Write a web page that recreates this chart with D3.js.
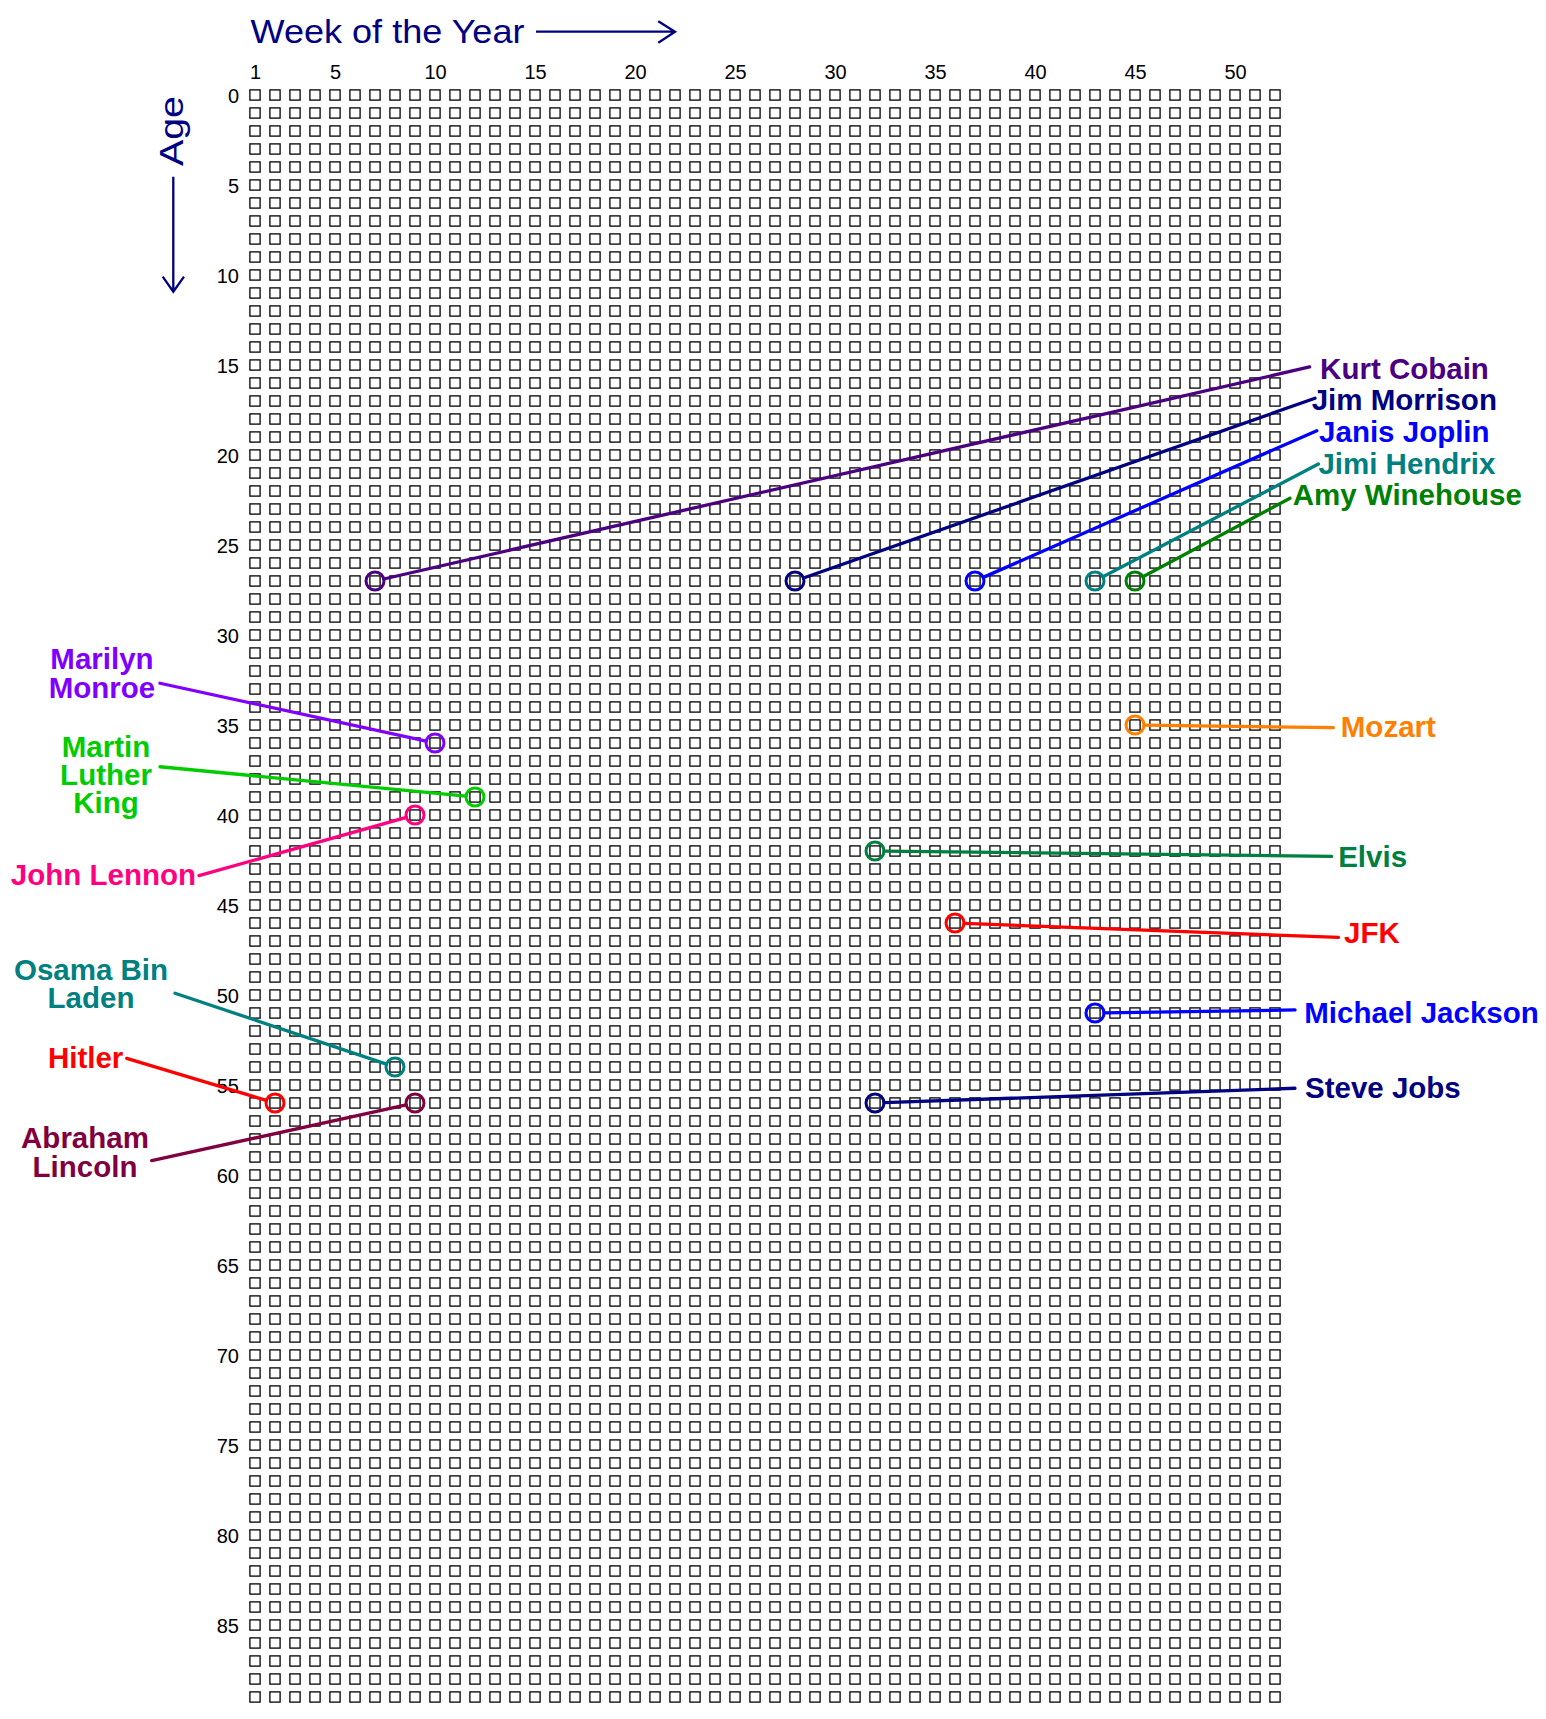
<!DOCTYPE html>
<html>
<head>
<meta charset="utf-8">
<script src="https://cdn.jsdelivr.net/npm/d3@7"></script>
<style>
  body { margin: 0; background: #fff; }
  svg { display: block; font-family: "Liberation Sans", Arial, Helvetica, sans-serif; }
  .tick text { font-size: 20px; fill: #000; }
</style>
</head>
<body>
<div id="chart"></div>
<script>
"use strict"

// grid: weeks of the year x years of age
const weeks = d3.range(1, 53);
const ages = d3.range(0, 90);
const weekTicks = [1, 5, 10, 15, 20, 25, 30, 35, 40, 45, 50];
const ageTicks = d3.range(0, 90, 5);

// who died when (week of year, age)
const people = ["Kurt Cobain", "Jim Morrison", "Janis Joplin", "Jimi Hendrix", "Amy Winehouse",
    "Mozart", "Marilyn Monroe", "Martin Luther King", "John Lennon", "Elvis", "JFK",
    "Michael Jackson", "Osama Bin Laden", "Hitler", "Abraham Lincoln", "Steve Jobs"];
const deathWeek = [7, 28, 37, 43, 45, 45, 10, 12, 9, 32, 36, 43, 8, 2, 9, 32];
const deathAge = [27, 27, 27, 27, 27, 35, 36, 39, 40, 42, 46, 51, 54, 56, 56, 56];

// label text as it is broken on the chart
const labelLines = {
    "Marilyn Monroe": ["Marilyn", "Monroe"],
    "Martin Luther King": ["Martin", "Luther", "King"],
    "Osama Bin Laden": ["Osama Bin", "Laden"],
    "Abraham Lincoln": ["Abraham", "Lincoln"]
};

// styling
const colors = {
    "Kurt Cobain": "#4b0082", "Jim Morrison": "#000080", "Janis Joplin": "#0000ff",
    "Jimi Hendrix": "#008080", "Amy Winehouse": "#008000", "Mozart": "#ff8000",
    "Marilyn Monroe": "#8000ff", "Martin Luther King": "#00cc00", "John Lennon": "#ff0080",
    "Elvis": "#008040", "JFK": "#ff0000", "Michael Jackson": "#0000ff",
    "Osama Bin Laden": "#008080", "Hitler": "#ff0000", "Abraham Lincoln": "#800040",
    "Steve Jobs": "#000080"
};

// callout layout: leader end point in (week, age) units, text offset in px
const callouts = {
    "Kurt Cobain":        { w: 53.73, a: 15.11, dx: 10.5, dy: 12, anchor: "start" },
    "Jim Morrison":       { w: 54.0,  a: 16.85, dx: -3.3, dy: 11.7, anchor: "start" },
    "Janis Joplin":       { w: 54.09, a: 18.65, dx: 2.3, dy: 11, anchor: "start" },
    "Jimi Hendrix":       { w: 54.17, a: 20.5,  dx: 0, dy: 10, anchor: "start" },
    "Amy Winehouse":      { w: 52.75, a: 22.4,  dx: 2.7, dy: 6.7, anchor: "start" },
    "Mozart":             { w: 54.92, a: 35.15, dx: 7.4, dy: 9, anchor: "start" },
    "Marilyn Monroe":     { w: -3.75, a: 32.68, dx: -58, dy: -14, anchor: "middle" },
    "Martin Luther King": { w: -3.75, a: 37.32, dx: -54, dy: -10, anchor: "middle" },
    "John Lennon":        { w: -1.8,  a: 43.37, dx: -3, dy: 9.3, anchor: "end" },
    "Elvis":              { w: 54.83, a: 42.3,  dx: 6.6, dy: 11, anchor: "start" },
    "JFK":                { w: 55.17, a: 46.8,  dx: 5.7, dy: 6, anchor: "start" },
    "Michael Jackson":    { w: 53.0,  a: 50.83, dx: 9.3, dy: 12.7, anchor: "start" },
    "Osama Bin Laden":    { w: -3.0,  a: 49.9,  dx: -84, dy: -13.3, anchor: "middle" },
    "Hitler":             { w: -5.415, a: 53.52, dx: -3.4, dy: 10, anchor: "end" },
    "Abraham Lincoln":    { w: -4.165, a: 59.2, dx: -66.7, dy: -12.4, anchor: "middle" },
    "Steve Jobs":         { w: 53.0,  a: 55.18, dx: 10, dy: 9.4, anchor: "start" }
};

const width = 1546, height = 1719;
const cell = 10.2, circleR = 9, lineHeight = 28.3;
const navy = "#000080";

const svg = d3.select("#chart").append("svg")
    .attr("width", width)
    .attr("height", height);

const x = d3.scaleLinear().domain([1, 52]).range([255, 1275]);
const y = d3.scaleLinear().domain([0, 89]).range([95, 95 + 89 * 18]);

/* axis titles */
svg.append("text")
    .attr("x", 250.5)
    .attr("y", 43.3)
    .attr("fill", navy)
    .style("font-size", "33px")
    .attr("textLength", 274)
    .attr("lengthAdjust", "spacingAndGlyphs")
    .text("Week of the Year");

let ax0 = 536, ax1 = 675, ay = 31.7;
svg.append("path")
    .attr("d", `M${ax0},${ay}H${ax1}M${ax1 - 16.7},${ay - 10.5}L${ax1},${ay}L${ax1 - 16.7},${ay + 11}`)
    .attr("fill", "none")
    .attr("stroke", navy)
    .attr("stroke-width", 2.3);

svg.append("text")
    .attr("transform", "translate(183,131) rotate(-90)")
    .attr("text-anchor", "middle")
    .attr("fill", navy)
    .style("font-size", "34px")
    .attr("textLength", 70)
    .attr("lengthAdjust", "spacingAndGlyphs")
    .text("Age");

let vx = 173.3, vy0 = 176.7, vy1 = 291.7;
svg.append("path")
    .attr("d", `M${vx},${vy0}V${vy1}M${vx - 10.6},${vy1 - 15}L${vx},${vy1}L${vx + 10.7},${vy1 - 15}`)
    .attr("fill", "none")
    .attr("stroke", navy)
    .attr("stroke-width", 2.3);

/* tick labels */
svg.append("g")
    .attr("transform", "translate(0,79)")
    .call(d3.axisTop(x).tickValues(weekTicks).tickSize(0).tickPadding(0).tickFormat(d3.format("d")))
    .call(g => g.select(".domain").remove())
    .selectAll("text").attr("font-family", null).attr("font-size", null);

svg.append("g")
    .attr("transform", "translate(241,0)")
    .call(d3.axisLeft(y).tickValues(ageTicks).tickSize(0).tickPadding(2).tickFormat(d3.format("d")))
    .call(g => g.select(".domain").remove())
    .selectAll("text").attr("font-family", null).attr("font-size", null).attr("dy", "0.35em");

/* the grid of weeks */
let cells = [];
ages.forEach(a => weeks.forEach(w => cells.push({ w, a })));

svg.append("g")
    .selectAll("rect")
    .data(cells)
    .enter().append("rect")
    .attr("x", d => x(d.w) - cell / 2)
    .attr("y", d => y(d.a) - cell / 2)
    .attr("width", cell)
    .attr("height", cell)
    .attr("fill", "none")
    .attr("stroke", "#000")
    .attr("stroke-width", 1.3);

/* markers with leader lines and labels */
let marks = people.map((name, i) => ({ name, w: deathWeek[i], a: deathAge[i], c: callouts[name] }));

let groups = svg.append("g")
    .selectAll("g")
    .data(marks)
    .enter().append("g")
    .attr("class", "person");

groups.append("line")
    .each(function (d) {
        let cx = x(d.w), cy = y(d.a);
        let ex = x(d.c.w), ey = y(d.c.a);
        let len = Math.hypot(ex - cx, ey - cy);
        d3.select(this)
            .attr("x1", cx + (ex - cx) / len * circleR)
            .attr("y1", cy + (ey - cy) / len * circleR)
            .attr("x2", ex)
            .attr("y2", ey);
    })
    .attr("stroke", d => colors[d.name])
    .attr("stroke-width", 3.3)
    .attr("stroke-linecap", "round");

groups.append("circle")
    .attr("cx", d => x(d.w))
    .attr("cy", d => y(d.a))
    .attr("r", circleR)
    .attr("fill", "none")
    .attr("stroke", d => colors[d.name])
    .attr("stroke-width", 3);

// one text element per printed line
groups.each(function (d) {
    let lines = labelLines[d.name] || [d.name];
    d3.select(this).selectAll("text.label")
        .data(lines)
        .enter().append("text")
        .attr("class", "label")
        .attr("x", x(d.c.w) + d.c.dx)
        .attr("y", (ln, k) => y(d.c.a) + d.c.dy + k * lineHeight)
        .attr("text-anchor", d.c.anchor)
        .attr("fill", colors[d.name])
        .style("font-size", "29.5px")
        .style("font-weight", "bold")
        .text(ln => ln);
});
</script>
</body>
</html>
